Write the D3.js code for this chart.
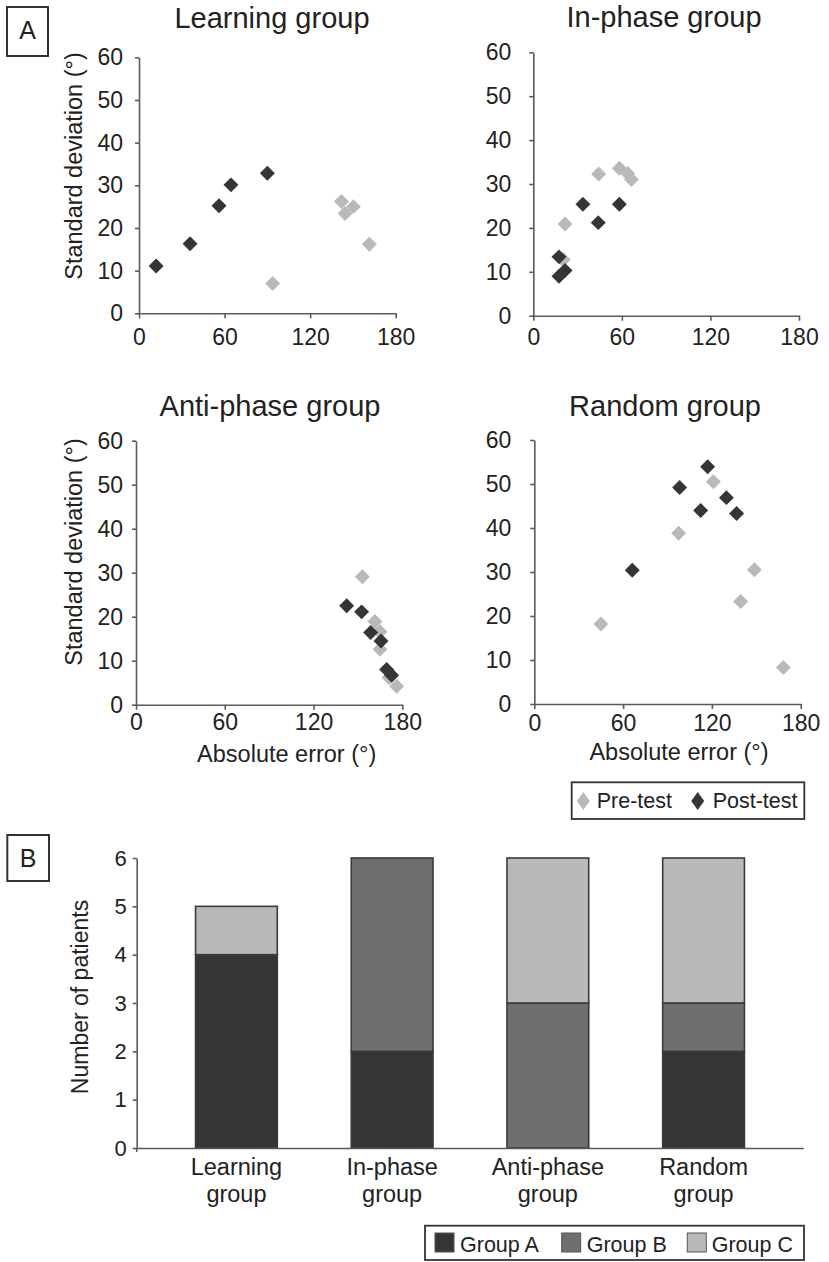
<!DOCTYPE html>
<html>
<head>
<meta charset="utf-8">
<script src="https://cdn.jsdelivr.net/npm/d3@7"></script>
<style>
  body { margin: 0; background: #fff; }
  text { font-family: "Liberation Sans", Arial, sans-serif; fill: #222; }
</style>
</head>
<body>
<svg id="chart" width="829" height="1262"></svg>
<script>
// ---- data ----
let scatterTitles = ["Learning group", "In-phase group", "Anti-phase group", "Random group"];

// [absolute error, standard deviation]
let learningPre = [[93.7, 7.0], [142, 26.2], [144.5, 23.4], [150.3, 25], [161.5, 16.2]];
let learningPost = [[12, 11.1], [35.8, 16.3], [56.1, 25.2], [64.5, 30.1], [90, 32.8]];
let inPhasePre = [[21.5, 20.9], [20.3, 12.8], [44.3, 32.3], [58.3, 33.6], [64, 32.4], [66.5, 31]];
let inPhasePost = [[17.4, 13.4], [17.4, 9.0], [21.5, 10.3], [33.6, 25.4], [44, 21.2], [58.3, 25.4]];
let antiPhasePre = [[153, 29.1], [161.5, 18.9], [164.9, 16.6], [164.9, 12.6], [171, 6.2], [176.2, 4.2]];
let antiPhasePost = [[142.4, 22.5], [152.5, 21.1], [158.6, 16.4], [165.6, 14.5], [169.4, 8.0], [172.8, 6.7]];
let randomPre = [[45, 18.2], [97.5, 38.8], [121, 50.5], [139.4, 23.3], [148.7, 30.5], [168.3, 8.3]];
let randomPost = [[66.2, 30.4], [98.2, 49.2], [112.4, 44], [117.1, 53.9], [129.8, 46.9], [136.7, 43.3]];

let xTicks = [0, 60, 120, 180];
let yTicks = [0, 10, 20, 30, 40, 50, 60];

let barCategories = [["Learning", "group"], ["In-phase", "group"], ["Anti-phase", "group"], ["Random", "group"]];
let groupA = [4, 2, 0, 2];
let groupB = [0, 4, 3, 1];
let groupC = [1, 0, 3, 3];
let barTicks = [0, 1, 2, 3, 4, 5, 6];
let barKeys = ["Group A", "Group B", "Group C"];

// ---- styles ----
let darkColor = "#353535";
let lightColor = "#b8b9bb";
let midColor = "#6e6f71";
let axisColor = "#5a5a5a";
let boxColor = "#333";

let svg = d3.select("#chart");

// panel layout (pixels)
let panels = [
  {pre: learningPre, post: learningPost, x0: 139, x1: 395.7, y0: 313.3, y1: 57.3, tx: 272, ty: 28, xpad: 10, ypad: 12, yLabel: 166, xLabel: null},
  {pre: inPhasePre, post: inPhasePost, x0: 533.3, x1: 799, y0: 315.7, y1: 52.3, tx: 664, ty: 27, xpad: 7.5, ypad: 18, yLabel: null, xLabel: null},
  {pre: antiPhasePre, post: antiPhasePost, x0: 136, x1: 402.3, y0: 704.7, y1: 440.7, tx: 270, ty: 416, xpad: 3.5, ypad: 9, yLabel: 552, xLabel: [286.7, 762]},
  {pre: randomPre, post: randomPost, x0: 534.3, x1: 800.7, y0: 704, y1: 440, tx: 665, ty: 416, xpad: 6, ypad: 19, yLabel: null, xLabel: [679, 760]}
];

let diamond = d3.symbol().type(d3.symbolSquare).size(112);

function styleAxis(g) {
  g.select(".domain").attr("stroke", axisColor).attr("stroke-width", 1.6);
  g.selectAll(".tick line").attr("stroke", axisColor).attr("stroke-width", 1.6);
  g.selectAll(".tick text").style("font-family", "Liberation Sans, Arial, sans-serif").attr("fill", "#222");
}

panels.forEach(function(p, i) {
  let x = d3.scaleLinear().domain([0, 180]).range([p.x0, p.x1]);
  let y = d3.scaleLinear().domain([0, 60]).range([p.y0, p.y1]);

  svg.append("text")
    .attr("x", p.tx).attr("y", p.ty)
    .attr("text-anchor", "middle")
    .style("font-size", "29px")
    .text(scatterTitles[i]);

  svg.append("g")
    .attr("transform", "translate(0," + p.y0 + ")")
    .call(d3.axisBottom(x).tickValues(xTicks).tickSizeInner(5).tickSizeOuter(0).tickPadding(p.xpad))
    .call(styleAxis)
    .selectAll("text").style("font-size", "23px");

  svg.append("g")
    .attr("transform", "translate(" + p.x0 + ",0)")
    .call(d3.axisLeft(y).tickValues(yTicks).tickSizeInner(4).tickSizeOuter(0).tickPadding(p.ypad))
    .call(styleAxis)
    .selectAll("text").style("font-size", "23px");

  if (p.yLabel != null) {
    svg.append("text")
      .attr("transform", "translate(82," + p.yLabel + ") rotate(-90)")
      .attr("text-anchor", "middle")
      .style("font-size", "23.5px")
      .text("Standard deviation (°)");
  }
  if (p.xLabel != null) {
    svg.append("text")
      .attr("x", p.xLabel[0]).attr("y", p.xLabel[1])
      .attr("text-anchor", "middle")
      .style("font-size", "23.5px")
      .text("Absolute error (°)");
  }

  // pre-test first, post-test on top
  svg.append("g").selectAll("path")
    .data(p.pre).enter().append("path")
    .attr("d", diamond)
    .attr("transform", d => "translate(" + x(d[0]) + "," + y(d[1]) + ") rotate(45)")
    .attr("fill", lightColor);

  svg.append("g").selectAll("path")
    .data(p.post).enter().append("path")
    .attr("d", diamond)
    .attr("transform", d => "translate(" + x(d[0]) + "," + y(d[1]) + ") rotate(45)")
    .attr("fill", darkColor);
});

// panel letters
function letterBox(x, y, w, h, label, by) {
  svg.append("rect").attr("x", x).attr("y", y).attr("width", w).attr("height", h)
    .attr("fill", "none").attr("stroke", boxColor).attr("stroke-width", 2);
  svg.append("text").attr("x", x + w / 2).attr("y", by)
    .attr("text-anchor", "middle").style("font-size", "25px").text(label);
}
letterBox(7, 7, 41, 49, "A", 39);
letterBox(7.3, 835, 41.7, 46, "B", 867);

// pre/post legend
let legend1 = svg.append("g");
legend1.append("rect").attr("x", 571.7).attr("y", 782.3).attr("width", 232.6).attr("height", 36.7)
  .attr("fill", "#fff").attr("stroke", boxColor).attr("stroke-width", 1.8);
let legDiamond = "M0,-9L6.5,0L0,9L-6.5,0Z";
[["Pre-test", lightColor, 583.3, 596.7], ["Post-test", darkColor, 697.7, 712.7]].forEach(function(d) {
  legend1.append("path").attr("d", legDiamond)
    .attr("transform", "translate(" + d[2] + ",801)").attr("fill", d[1]);
  legend1.append("text").attr("x", d[3]).attr("y", 808).style("font-size", "21.5px").text(d[0]);
});

// ---- bar chart ----
let barRows = barCategories.map((c, i) => ({cat: c.join(" "), "Group A": groupA[i], "Group B": groupB[i], "Group C": groupC[i]}));
let bx = d3.scaleBand().domain(barRows.map(d => d.cat)).range([136.7, 803.3]).paddingInner(0.475).paddingOuter(0.378);
let by = d3.scaleLinear().domain([0, 6]).range([1148, 858]);
let barColor = d3.scaleOrdinal().domain(barKeys).range([darkColor, midColor, lightColor]);
let stacked = d3.stack().keys(barKeys)(barRows);

svg.append("g").selectAll("g")
  .data(stacked).enter().append("g")
  .attr("fill", d => barColor(d.key))
  .selectAll("rect")
  .data(d => d.filter(s => s[1] > s[0])).enter().append("rect")
  .attr("x", d => bx(d.data.cat))
  .attr("width", bx.bandwidth())
  .attr("y", d => by(d[1]))
  .attr("height", d => by(d[0]) - by(d[1]))
  .attr("stroke", "#3a3a3a")
  .attr("stroke-width", 1.6);

let yAxisB = svg.append("g")
  .attr("transform", "translate(136.7,0)")
  .call(d3.axisLeft(by).tickValues(barTicks).tickFormat(d3.format("d")).tickSizeInner(4).tickSizeOuter(0).tickPadding(6))
  .call(styleAxis);
yAxisB.selectAll("text").style("font-size", "22px");

let xAxisB = svg.append("g")
  .attr("transform", "translate(0,1148)")
  .call(d3.axisBottom(bx).tickSize(0).tickFormat(""))
  .call(styleAxis);
xAxisB.append("line").attr("x1", 136.7).attr("x2", 136.7).attr("y1", 0).attr("y2", 4)
  .attr("stroke", axisColor).attr("stroke-width", 1.6);

barCategories.forEach(function(c, i) {
  let cx = bx(barRows[i].cat) + bx.bandwidth() / 2;
  svg.append("text").attr("x", cx).attr("y", 1175).attr("text-anchor", "middle")
    .style("font-size", "23.5px").text(c[0]);
  svg.append("text").attr("x", cx).attr("y", 1202).attr("text-anchor", "middle")
    .style("font-size", "23.5px").text(c[1]);
});

svg.append("text")
  .attr("transform", "translate(88,997) rotate(-90)")
  .attr("text-anchor", "middle")
  .style("font-size", "23px")
  .text("Number of patients");

// group legend
let legend2 = svg.append("g");
legend2.append("rect").attr("x", 425).attr("y", 1225.7).attr("width", 379).attr("height", 34.3)
  .attr("fill", "#fff").attr("stroke", boxColor).attr("stroke-width", 1.8);
let legX = [[435, 460], [561.7, 586.7], [687.3, 711.7]];
barKeys.forEach(function(k, i) {
  legend2.append("rect").attr("x", legX[i][0]).attr("y", 1233).attr("width", 19).attr("height", 19)
    .attr("fill", barColor(k)).attr("stroke", "#555").attr("stroke-width", 1);
  legend2.append("text").attr("x", legX[i][1]).attr("y", 1251.5).style("font-size", "21.5px").text(k);
});
</script>
</body>
</html>
